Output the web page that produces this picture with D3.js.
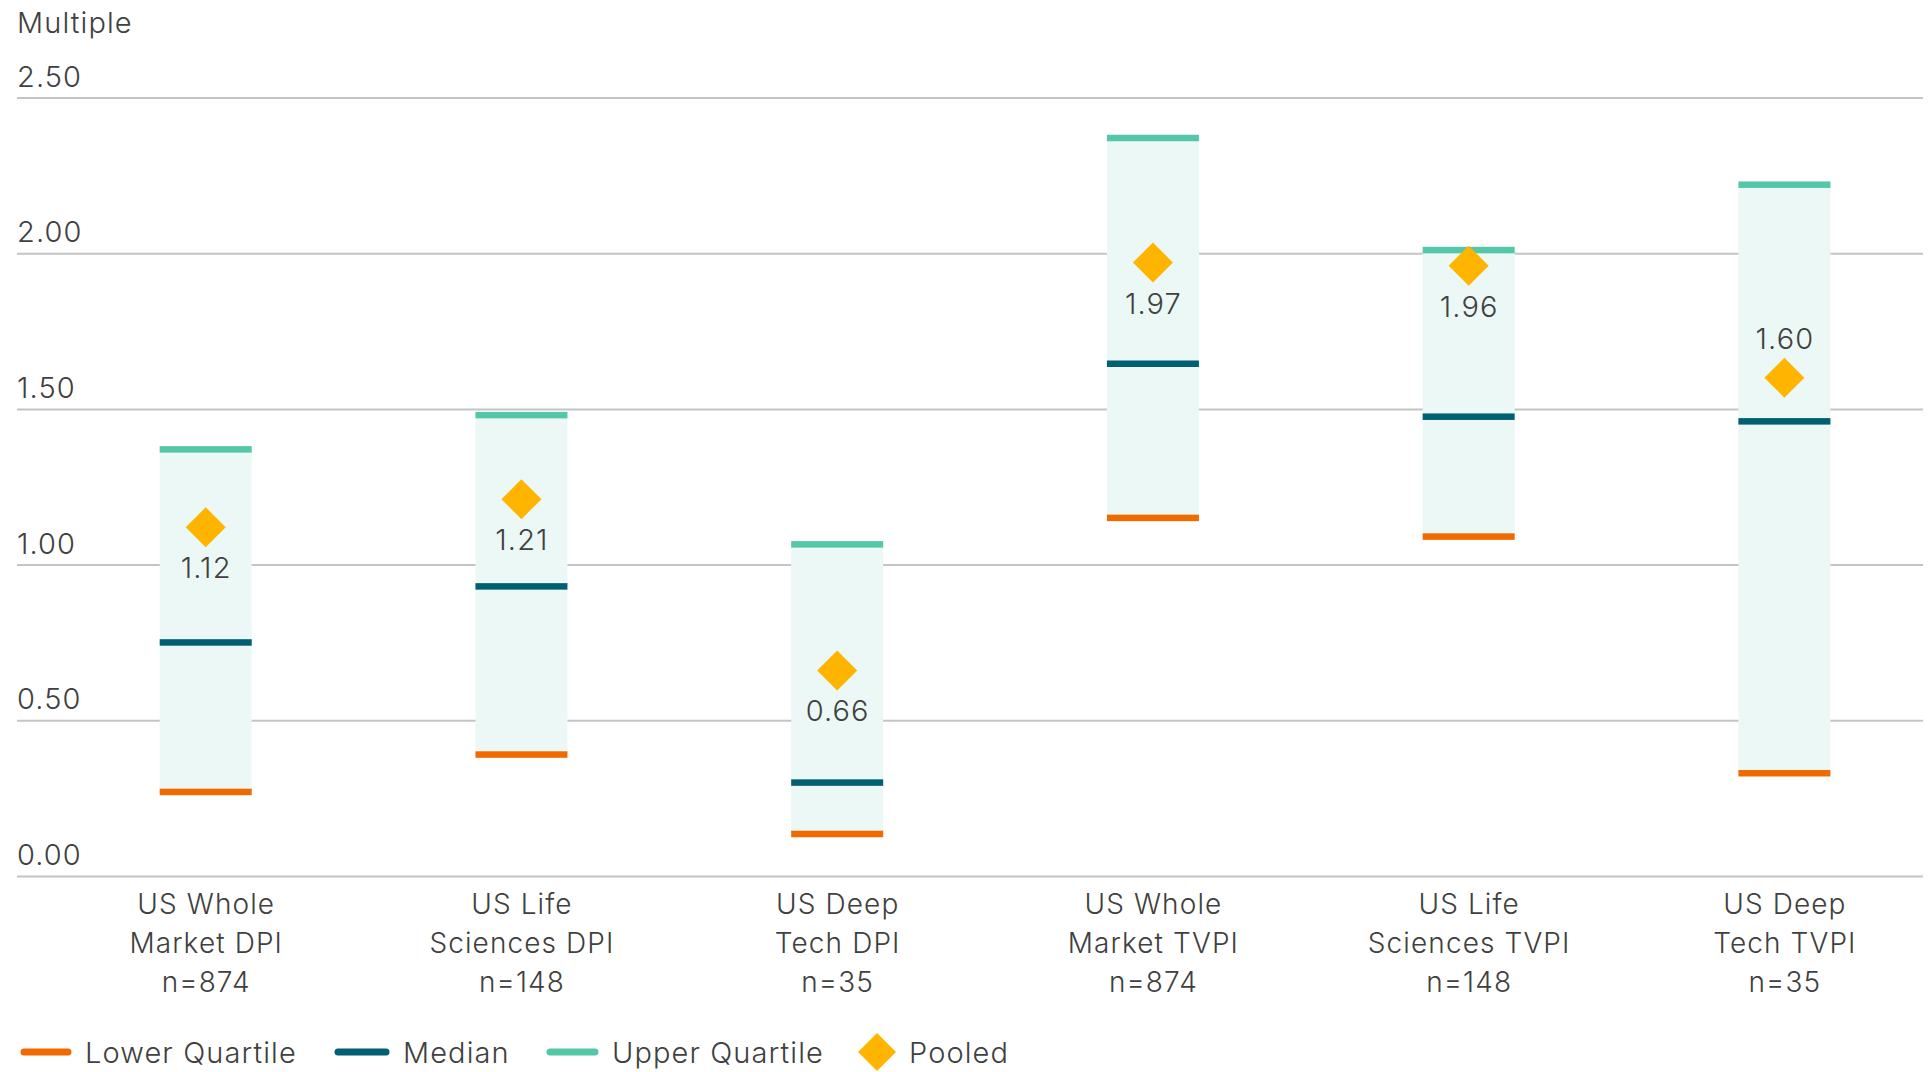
<!DOCTYPE html>
<html>
<head>
<meta charset="utf-8">
<script src="https://cdn.jsdelivr.net/npm/d3@7"></script>
<style>
  html, body { margin: 0; padding: 0; background: #ffffff; }
  svg text { font-family: Inter, "Noto Sans", sans-serif; font-weight: 300; fill: #404040; letter-spacing: 1.1px; }
</style>
</head>
<body>
<svg id="chart" width="1931" height="1072"></svg>
<script>
const categories = [
  ["US Whole", "Market DPI", "n=874"],
  ["US Life", "Sciences DPI", "n=148"],
  ["US Deep", "Tech DPI", "n=35"],
  ["US Whole", "Market TVPI", "n=874"],
  ["US Life", "Sciences TVPI", "n=148"],
  ["US Deep", "Tech TVPI", "n=35"]
];
const lowerQuartile = [0.27, 0.39, 0.135, 1.15, 1.09, 0.33];
const median        = [0.75, 0.93, 0.30, 1.645, 1.475, 1.46];
const upperQuartile = [1.37, 1.48, 1.065, 2.37, 2.01, 2.22];
const pooled        = [1.12, 1.21, 0.66, 1.97, 1.96, 1.60];
const labelAbove    = [false, false, false, false, false, true];
const yTicks = [0, 0.5, 1.0, 1.5, 2.0, 2.5];
const legendItems = ["Lower Quartile", "Median", "Upper Quartile", "Pooled"];

const colors = {
  lower: "#F06A00",
  median: "#005F73",
  upper: "#55C7A9",
  fill: "#EBF8F5",
  pooled: "#FFB500",
  grid: "#C4C4C4"
};

const svg = d3.select("#chart");
const idx = d3.range(categories.length);

const y = d3.scaleLinear().domain([0, 2.5]).range([876, 97.5]);
const x = d3.scalePoint().domain(idx).range([205.7, 1784.4]);
const barW = 92;
const lineH = 6.5;

// y-axis title
svg.append("text").attr("x", 17).attr("y", 33).attr("font-size", 29).text("Multiple");

// gridlines + tick labels via axis
const yAxis = d3.axisRight(y).tickValues(yTicks).tickSize(1906).tickFormat(d3.format(".2f"));
const gAxis = svg.append("g").attr("transform", "translate(17,0)").call(yAxis);
gAxis.select(".domain").remove();
gAxis.selectAll(".tick line").attr("stroke", colors.grid).attr("stroke-width", 2);
gAxis.selectAll(".tick text")
  .attr("x", 0).attr("dy", 0).attr("y", -11.5)
  .attr("text-anchor", "start")
  .attr("font-size", 29)
  .style("font-family", "Inter, 'Noto Sans', sans-serif")
  .style("font-weight", 300)
  .style("letter-spacing", "1.1px")
  .attr("fill", "#404040");

// boxes
const g = svg.append("g");
g.selectAll("rect.box").data(idx).join("rect")
  .attr("class", "box")
  .attr("x", i => x(i) - barW / 2)
  .attr("width", barW)
  .attr("y", i => y(upperQuartile[i]))
  .attr("height", i => y(lowerQuartile[i]) - y(upperQuartile[i]))
  .attr("fill", colors.fill);

function drawLine(values, color, cls) {
  g.selectAll("rect." + cls).data(idx).join("rect")
    .attr("class", cls)
    .attr("x", i => x(i) - barW / 2)
    .attr("width", barW)
    .attr("y", i => y(values[i]) - lineH / 2)
    .attr("height", lineH)
    .attr("fill", color);
}
drawLine(upperQuartile, colors.upper, "upper");
drawLine(median, colors.median, "median");
drawLine(lowerQuartile, colors.lower, "lower");

// pooled diamonds
const dHalf = 20;
g.selectAll("path.pooled").data(idx).join("path")
  .attr("class", "pooled")
  .attr("d", i => {
    const cx = x(i), cy = y(pooled[i]);
    return `M${cx},${cy - dHalf}L${cx + dHalf},${cy}L${cx},${cy + dHalf}L${cx - dHalf},${cy}Z`;
  })
  .attr("fill", colors.pooled);

g.selectAll("text.pooledLabel").data(idx).join("text")
  .attr("class", "pooledLabel")
  .attr("x", i => x(i) + 0.5)
  .attr("y", i => labelAbove[i] ? y(pooled[i]) - 29 : y(pooled[i]) + 51)
  .attr("text-anchor", "middle")
  .attr("font-size", 29)
  .text(i => pooled[i].toFixed(2));

// category labels
const cat = svg.append("g");
idx.forEach(i => {
  const t = cat.append("text").attr("x", x(i)).attr("y", 914).attr("text-anchor", "middle").attr("font-size", 28);
  categories[i].forEach((line, k) => {
    t.append("tspan").attr("x", x(i) + 0.5).attr("y", 914 + k * 38.8).text(line);
  });
});

// legend
const legend = svg.append("g");
const legendY = 1052;
const legendLines = [
  {x1: 24, x2: 68, color: colors.lower, tx: 85, label: legendItems[0]},
  {x1: 338, x2: 386, color: colors.median, tx: 403, label: legendItems[1]},
  {x1: 550, x2: 595, color: colors.upper, tx: 612, label: legendItems[2]}
];
legendLines.forEach(d => {
  legend.append("line").attr("x1", d.x1).attr("x2", d.x2).attr("y1", legendY).attr("y2", legendY)
    .attr("stroke", d.color).attr("stroke-width", 7).attr("stroke-linecap", "round");
  legend.append("text").attr("x", d.tx).attr("y", legendY + 11).attr("font-size", 29).text(d.label);
});
const lcx = 877;
legend.append("path")
  .attr("d", `M${lcx},${legendY - 19}L${lcx + 19},${legendY}L${lcx},${legendY + 19}L${lcx - 19},${legendY}Z`)
  .attr("fill", colors.pooled);
legend.append("text").attr("x", 909).attr("y", legendY + 11).attr("font-size", 29).text(legendItems[3]);
</script>
</body>
</html>
